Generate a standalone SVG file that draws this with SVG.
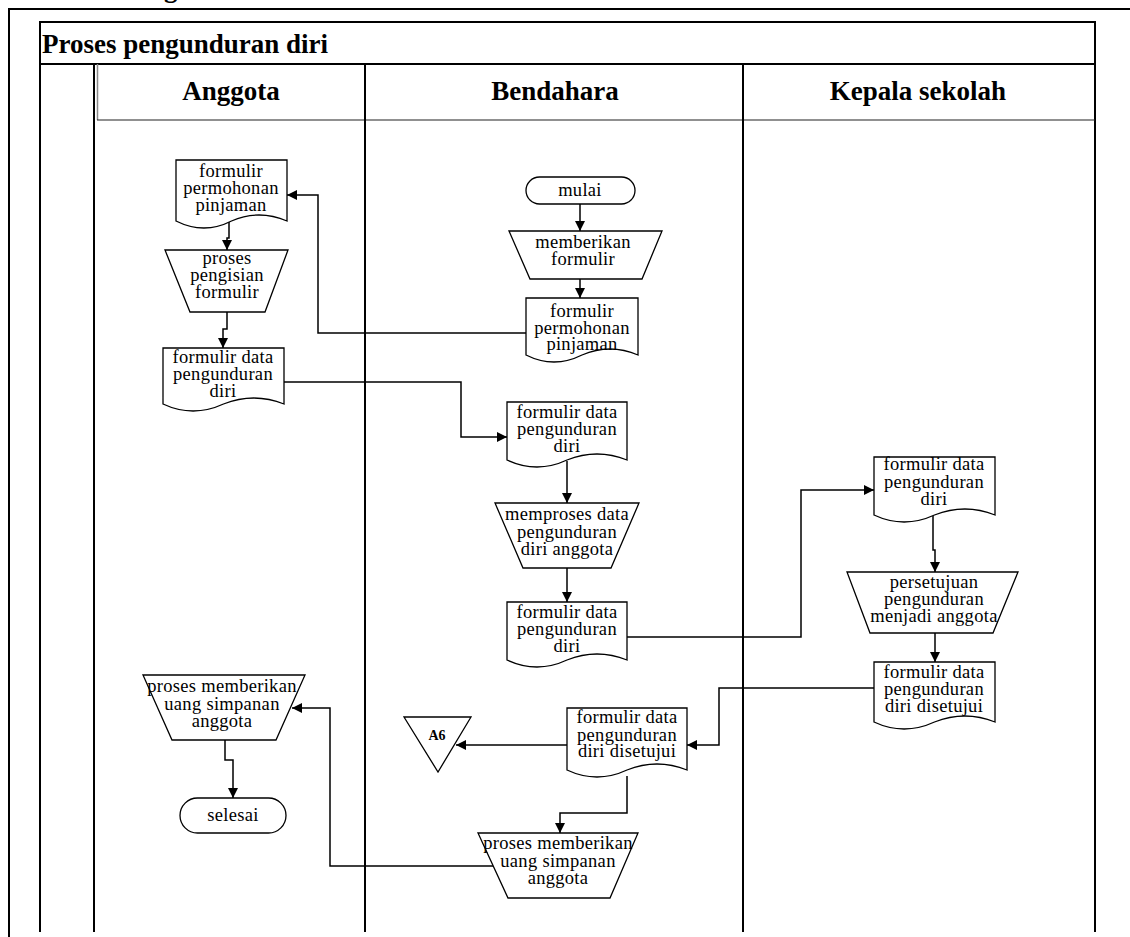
<svg xmlns="http://www.w3.org/2000/svg" width="1130" height="937" viewBox="0 0 1130 937">
  <style>
    .frame { fill: none; stroke: #000; stroke-width: 2; }
    .thin { fill: none; stroke: #222; stroke-width: 1.2; }
    .shape { fill: #fff; stroke: #000; stroke-width: 1.3; }
    .conn { fill: none; stroke: #000; stroke-width: 1.5; }
    .title { font-family: "Liberation Serif", "Times New Roman", serif; font-weight: bold; font-size: 27px; fill: #000; }
    .lane { font-family: "Liberation Serif", "Times New Roman", serif; font-weight: bold; font-size: 27px; fill: #000; text-anchor: middle; }
    .lbl { font-family: "Liberation Serif", "Times New Roman", serif; font-size: 18.5px; letter-spacing: 0.3px; fill: #000; text-anchor: middle; }
    .off { font-family: "Liberation Serif", "Times New Roman", serif; font-weight: bold; font-size: 14px; fill: #000; text-anchor: middle; }
  </style>
  <defs>
    <marker id="arrow" markerUnits="userSpaceOnUse" markerWidth="10" markerHeight="10" refX="10" refY="5" orient="auto">
      <path d="M0,0 L10,5 L0,10 Z" fill="#000"/>
    </marker>
  </defs>

  <rect width="1130" height="937" fill="#fff"/>

  <!-- page fragment and outer frame -->
  <text class="title" x="164" y="-3">g</text>
  <path class="frame" d="M9,937 V9 H1130"/>

  <!-- swimlane pool -->
  <g id="pool">
    <path class="frame" d="M40,932 V22 H1095 V932"/>
    <line class="frame" x1="40" y1="64" x2="1095" y2="64"/>
    <line class="frame" x1="94" y1="64" x2="94" y2="932"/>
    <line x1="97.5" y1="64" x2="97.5" y2="120" stroke="#888" stroke-width="1.5"/>
    <line class="thin" x1="97" y1="120" x2="1095" y2="120"/>
    <line class="frame" x1="365" y1="64" x2="365" y2="932"/>
    <line class="frame" x1="743" y1="64" x2="743" y2="932"/>
    <text class="title" x="42" y="53">Proses pengunduran diri</text>
    <text class="lane" x="231" y="100">Anggota</text>
    <text class="lane" x="555" y="100">Bendahara</text>
    <text class="lane" x="918" y="100">Kepala sekolah</text>
  </g>

  <!-- connectors -->
  <g id="connectors">
    <path class="conn" d="M229,222 V238 H227 V250" marker-end="url(#arrow)"/>
    <path class="conn" d="M227,312 V329 H223 V348" marker-end="url(#arrow)"/>
    <path class="conn" d="M526,333 H318 V195 H287" marker-end="url(#arrow)"/>
    <path class="conn" d="M284,382 H461 V437 H507" marker-end="url(#arrow)"/>
    <path class="conn" d="M580,204 V231" marker-end="url(#arrow)"/>
    <path class="conn" d="M580,279 V298" marker-end="url(#arrow)"/>
    <path class="conn" d="M567,461 V503" marker-end="url(#arrow)"/>
    <path class="conn" d="M567,568 V602" marker-end="url(#arrow)"/>
    <path class="conn" d="M627,637 H801 V490 H874" marker-end="url(#arrow)"/>
    <path class="conn" d="M933,516 V550 H935 V572" marker-end="url(#arrow)"/>
    <path class="conn" d="M935,633 V662" marker-end="url(#arrow)"/>
    <path class="conn" d="M874,688 H719 V745 H687" marker-end="url(#arrow)"/>
    <path class="conn" d="M567,745 H456" marker-end="url(#arrow)"/>
    <path class="conn" d="M627,776 V813 H560 V833" marker-end="url(#arrow)"/>
    <path class="conn" d="M493,866 H330 V708 H292" marker-end="url(#arrow)"/>
    <path class="conn" d="M225,740 V760 H233 V798" marker-end="url(#arrow)"/>
  </g>

  <!-- Anggota -->
  <g id="a-formulir-pinjaman">
    <path class="shape" d="M176,160 H287 V221 Q259,209 231.5,221 Q204,235 176,221 Z"/>
    <text class="lbl" x="231" y="177">formulir</text>
    <text class="lbl" x="231" y="194">permohonan</text>
    <text class="lbl" x="231" y="211">pinjaman</text>
  </g>
  <g id="a-pengisian">
    <path class="shape" d="M165,250 H288 L265,312 H190 Z"/>
    <text class="lbl" x="227" y="264">proses</text>
    <text class="lbl" x="227" y="281">pengisian</text>
    <text class="lbl" x="227" y="298">formulir</text>
  </g>
  <g id="a-formulir-data">
    <path class="shape" d="M163,348 H284 V404 Q254,392 223.5,404 Q193,418 163,404 Z"/>
    <text class="lbl" x="223" y="363">formulir data</text>
    <text class="lbl" x="223" y="380">pengunduran</text>
    <text class="lbl" x="223" y="397">diri</text>
  </g>
  <g id="a-pemberian-uang">
    <path class="shape" d="M143,675 H305 L276,740 H172 Z"/>
    <text class="lbl" x="222" y="692">proses memberikan</text>
    <text class="lbl" x="222" y="710">uang simpanan</text>
    <text class="lbl" x="222" y="727">anggota</text>
  </g>
  <g id="a-selesai">
    <rect class="shape" x="180" y="798" width="106" height="35" rx="17.5"/>
    <text class="lbl" x="233" y="821">selesai</text>
  </g>

  <!-- Bendahara -->
  <g id="b-mulai">
    <rect class="shape" x="526" y="177" width="109" height="27" rx="13.5"/>
    <text class="lbl" x="580" y="196">mulai</text>
  </g>
  <g id="b-memberikan">
    <path class="shape" d="M509,231 H662 L642,279 H530 Z"/>
    <text class="lbl" x="583" y="248">memberikan</text>
    <text class="lbl" x="583" y="265">formulir</text>
  </g>
  <g id="b-formulir-pinjaman">
    <path class="shape" d="M526,298 H638 V355 Q610,343 582,355 Q554,369 526,355 Z"/>
    <text class="lbl" x="582" y="317">formulir</text>
    <text class="lbl" x="582" y="334">permohonan</text>
    <text class="lbl" x="582" y="350">pinjaman</text>
  </g>
  <g id="b-formulir-data-masuk">
    <path class="shape" d="M507,402 H627 V460 Q597,448 567,460 Q537,474 507,460 Z"/>
    <text class="lbl" x="567" y="418">formulir data</text>
    <text class="lbl" x="567" y="435">pengunduran</text>
    <text class="lbl" x="567" y="452">diri</text>
  </g>
  <g id="b-memproses">
    <path class="shape" d="M495,503 H639 L611,568 H523 Z"/>
    <text class="lbl" x="567" y="520">memproses data</text>
    <text class="lbl" x="567" y="538">pengunduran</text>
    <text class="lbl" x="567" y="555">diri anggota</text>
  </g>
  <g id="b-formulir-data-keluar">
    <path class="shape" d="M507,602 H627 V660 Q597,648 567,660 Q537,674 507,660 Z"/>
    <text class="lbl" x="567" y="618">formulir data</text>
    <text class="lbl" x="567" y="635">pengunduran</text>
    <text class="lbl" x="567" y="652">diri</text>
  </g>
  <g id="b-formulir-disetujui">
    <path class="shape" d="M567,708 H687 V770 Q657,758 627,770 Q597,784 567,770 Z"/>
    <text class="lbl" x="627" y="723">formulir data</text>
    <text class="lbl" x="627" y="741">pengunduran</text>
    <text class="lbl" x="627" y="757">diri disetujui</text>
  </g>
  <g id="b-offpage-a6">
    <path class="shape" d="M404,717 H471 L438,772 Z"/>
    <text class="off" x="437" y="740">A6</text>
  </g>
  <g id="b-pemberian-uang">
    <path class="shape" d="M478,833 H638 L610,898 H508 Z"/>
    <text class="lbl" x="558" y="849">proses memberikan</text>
    <text class="lbl" x="558" y="867">uang simpanan</text>
    <text class="lbl" x="558" y="884">anggota</text>
  </g>

  <!-- Kepala sekolah -->
  <g id="k-formulir-data">
    <path class="shape" d="M874,457 H995 V515 Q965,503 934.5,515 Q904,529 874,515 Z"/>
    <text class="lbl" x="934" y="470">formulir data</text>
    <text class="lbl" x="934" y="488">pengunduran</text>
    <text class="lbl" x="934" y="505">diri</text>
  </g>
  <g id="k-persetujuan">
    <path class="shape" d="M847,572 H1018 L993,633 H870 Z"/>
    <text class="lbl" x="934" y="588">persetujuan</text>
    <text class="lbl" x="934" y="605">pengunduran</text>
    <text class="lbl" x="934" y="622">menjadi anggota</text>
  </g>
  <g id="k-formulir-disetujui">
    <path class="shape" d="M874,662 H995 V722 Q965,710 934.5,722 Q904,736 874,722 Z"/>
    <text class="lbl" x="934" y="678">formulir data</text>
    <text class="lbl" x="934" y="695">pengunduran</text>
    <text class="lbl" x="934" y="712">diri disetujui</text>
  </g>
</svg>
